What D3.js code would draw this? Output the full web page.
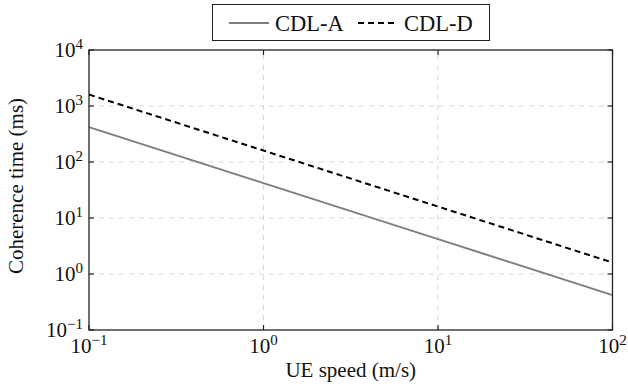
<!DOCTYPE html>
<html>
<head>
<meta charset="utf-8">
<script src="https://cdn.jsdelivr.net/npm/d3@7"></script>
<style>
  body { margin: 0; background: #fff; }
</style>
</head>
<body>
<div id="chart"></div>
<script>
// UE speed (m/s) and coherence time (ms)
const speeds = [0.1, 1, 10, 100];
const cdlA = [420, 42, 4.2, 0.42];
const cdlD = [1600, 160, 16, 1.6];

const seriesNames = ["CDL-A", "CDL-D"];
const xTickExps = [-1, 0, 1, 2];
const yTickExps = [-1, 0, 1, 2, 3, 4];

(function () {
  const width = 628, height = 386;
  const margin = { top: 50, right: 15.5, bottom: 56, left: 89 };
  const fontSize = 21;
  const serif = "'Liberation Serif', 'DejaVu Serif', 'Times New Roman', serif";

  const svg = d3.select('#chart').append('svg')
    .attr('width', width)
    .attr('height', height)
    .attr('font-family', serif);

  const x = d3.scaleLog([0.1, 100], [margin.left, width - margin.right]);
  const y = d3.scaleLog([0.1, 1e4], [height - margin.bottom, margin.top]);

  const x0 = x.range()[0], x1 = x.range()[1];
  const y0 = y.range()[0], y1 = y.range()[1];

  // grid
  const grid = svg.append('g')
    .attr('stroke', '#d9d9d9')
    .attr('stroke-width', 1.1)
    .attr('stroke-dasharray', '5,5');
  grid.selectAll('line.gx')
    .data(xTickExps.slice(1, -1))
    .join('line')
      .attr('x1', d => x(Math.pow(10, d))).attr('x2', d => x(Math.pow(10, d)))
      .attr('y1', y0).attr('y2', y1);
  grid.selectAll('line.gy')
    .data(yTickExps.slice(1, -1))
    .join('line')
      .attr('y1', d => y(Math.pow(10, d))).attr('y2', d => y(Math.pow(10, d)))
      .attr('x1', x0).attr('x2', x1);

  // series
  const line = d3.line()
    .x(d => x(d[0]))
    .y(d => y(d[1]));

  svg.append('path')
    .datum(d3.zip(speeds, cdlA))
    .attr('d', line)
    .attr('fill', 'none')
    .attr('stroke', '#7f7f7f')
    .attr('stroke-width', 2);

  svg.append('path')
    .datum(d3.zip(speeds, cdlD))
    .attr('d', line)
    .attr('fill', 'none')
    .attr('stroke', '#000')
    .attr('stroke-width', 2)
    .attr('stroke-dasharray', '6,4');

  // ticks, inward on all four sides
  const ticks = svg.append('g').attr('stroke', '#222').attr('stroke-width', 1.2);
  const tLen = 5;
  xTickExps.forEach(function (e) {
    const px = x(Math.pow(10, e));
    ticks.append('line').attr('x1', px).attr('x2', px).attr('y1', y0).attr('y2', y0 - tLen);
    ticks.append('line').attr('x1', px).attr('x2', px).attr('y1', y1).attr('y2', y1 + tLen);
  });
  yTickExps.forEach(function (e) {
    const py = y(Math.pow(10, e));
    ticks.append('line').attr('y1', py).attr('y2', py).attr('x1', x0).attr('x2', x0 + tLen);
    ticks.append('line').attr('y1', py).attr('y2', py).attr('x1', x1).attr('x2', x1 - tLen);
  });

  // frame
  svg.append('rect')
    .attr('x', x0).attr('y', y1)
    .attr('width', x1 - x0).attr('height', y0 - y1)
    .attr('fill', 'none')
    .attr('stroke', '#222')
    .attr('stroke-width', 1.3);

  function powLabel(sel, e) {
    sel.append('tspan').text('10');
    sel.append('tspan')
      .attr('dy', -8)
      .attr('font-size', 15)
      .text(e < 0 ? '\u2212' + Math.abs(e) : e);
  }

  xTickExps.forEach(function (e) {
    const t = svg.append('text')
      .attr('x', x(Math.pow(10, e)))
      .attr('y', y0 + 23)
      .attr('text-anchor', 'middle')
      .attr('font-size', fontSize)
      .attr('fill', '#111');
    powLabel(t, e);
  });
  yTickExps.forEach(function (e) {
    const t = svg.append('text')
      .attr('x', x0 - 6)
      .attr('y', y(Math.pow(10, e)) + 7)
      .attr('text-anchor', 'end')
      .attr('font-size', fontSize)
      .attr('fill', '#111');
    powLabel(t, e);
  });

  // axis titles
  svg.append('text')
    .attr('x', (x0 + x1) / 2)
    .attr('y', 377)
    .attr('text-anchor', 'middle')
    .attr('font-size', fontSize)
    .attr('fill', '#111')
    .text('UE speed (m/s)');

  svg.append('text')
    .attr('transform', `translate(23,${(y0 + y1) / 2 - 4}) rotate(-90)`)
    .attr('text-anchor', 'middle')
    .attr('font-size', fontSize)
    .attr('fill', '#111')
    .text('Coherence time (ms)');

  // legend
  const legend = svg.append('g');
  legend.append('rect')
    .attr('x', 212.5).attr('y', 4.5)
    .attr('width', 277).attr('height', 36)
    .attr('fill', '#fff')
    .attr('stroke', '#222')
    .attr('stroke-width', 1);
  const legendItems = [
    { name: seriesNames[0], x: 229, stroke: '#7f7f7f', dash: null },
    { name: seriesNames[1], x: 358, stroke: '#000', dash: '6,4' }
  ];
  legendItems.forEach(function (it) {
    legend.append('line')
      .attr('x1', it.x).attr('x2', it.x + 40)
      .attr('y1', 23).attr('y2', 23)
      .attr('stroke', it.stroke)
      .attr('stroke-width', 2)
      .attr('stroke-dasharray', it.dash);
    legend.append('text')
      .attr('x', it.x + 46)
      .attr('y', 30.5)
      .attr('font-size', 22.5)
      .attr('fill', '#111')
      .text(it.name);
  });
})();
</script>
</body>
</html>
